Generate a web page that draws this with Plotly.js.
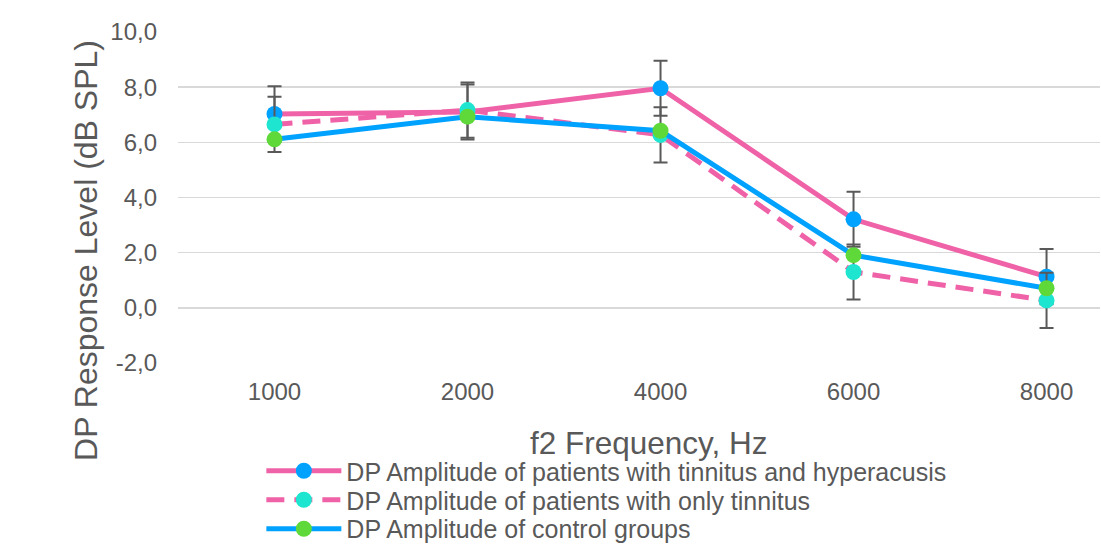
<!DOCTYPE html>
<html>
<head>
<meta charset="utf-8">
<script src="https://cdn.plot.ly/plotly-3.0.1.min.js"></script>
<style>html,body{margin:0;padding:0;background:#fff;}#chart{width:1101px;height:551px;}</style>
</head>
<body>
<div id="chart"></div>
<script>
var categories = ["1000", "2000", "4000", "6000", "8000"];
var tinnitusHyperacusis = [7.03, 7.1, 7.96, 3.21, 1.13];
var onlyTinnitus = [6.65, 7.17, 6.27, 1.3, 0.27];
var controlGroup = [6.11, 6.93, 6.42, 1.91, 0.71];
var errHyperacusis = [1.0, 1.0, 1.0, 1.0, 1.0];
var errOnlyTinnitus = [1.0, 1.0, 1.0, 1.0, 1.0];
var seriesNames = [
  "DP Amplitude of patients with tinnitus and hyperacusis",
  "DP Amplitude of patients with only tinnitus",
  "DP Amplitude of control groups"
];
var yTicks = [-2, 0, 2, 4, 6, 8, 10];
var yTickText = yTicks.map(function (v) { return v.toFixed(1).replace(".", ","); });
var xTitle = "f2 Frequency, Hz";
var yTitle = "DP Response Level (dB SPL)";

var errStyle = {type: "data", visible: true, color: "#595959", thickness: 2, width: 7};

var traces = [
  {x: categories, y: tinnitusHyperacusis, name: seriesNames[0], type: "scatter", mode: "lines+markers",
   legend: "legend",
   line: {color: "#EF62A8", width: 5}, marker: {color: "#00A2FF", size: 16},
   error_y: Object.assign({array: errHyperacusis}, errStyle)},
  {x: categories, y: onlyTinnitus, name: seriesNames[1], type: "scatter", mode: "lines+markers",
   legend: "legend2",
   line: {color: "#EF62A8", width: 5, dash: "18px,10px"}, marker: {color: "#1DE5D0", size: 16},
   error_y: Object.assign({array: errOnlyTinnitus}, errStyle)},
  {x: categories, y: controlGroup, name: seriesNames[2], type: "scatter", mode: "lines+markers",
   legend: "legend3",
   line: {color: "#00A2FF", width: 5}, marker: {color: "#5FD93A", size: 16}}
];

function legendAt(yPaper) {
  return {x: 0.0904, y: yPaper, xanchor: "left", yanchor: "middle", orientation: "v", itemwidth: 75,
          font: {size: 25, color: "#595959"}, bgcolor: "rgba(0,0,0,0)", borderwidth: 0};
}

var layout = {
  width: 1101, height: 551,
  margin: {l: 178, r: 1, t: 32, b: 188, autoexpand: false},
  paper_bgcolor: "#fff", plot_bgcolor: "#fff",
  font: {family: "Liberation Sans, Arial, sans-serif", color: "#595959"},
  showlegend: true,
  legend: legendAt(-0.3263),
  legend2: legendAt(-0.4139),
  legend3: legendAt(-0.5015),
  xaxis: {type: "category", range: [-0.5, 4.277], showgrid: false, zeroline: false, showline: false,
          ticks: "", tickfont: {size: 24, color: "#595959"}, ticklabelstandoff: 12,
          automargin: false, fixedrange: true},
  yaxis: {range: [-2, 10], tickvals: yTicks, ticktext: yTickText, showgrid: true, gridcolor: "#d9d9d9", gridwidth: 1.5,
          zeroline: false, showline: false, ticks: "", tickfont: {size: 24, color: "#595959"}, ticklabelstandoff: 20,
          automargin: false, fixedrange: true},
  annotations: [
    {text: xTitle, xref: "paper", yref: "paper", x: 0.5108, y: -0.2417, xanchor: "center", yanchor: "middle",
     showarrow: false, font: {size: 31.5, color: "#595959"}},
    {text: yTitle, xref: "paper", yref: "paper", x: -0.0998, y: 0.3414, xanchor: "center", yanchor: "middle",
     textangle: -90, showarrow: false, font: {size: 32, color: "#595959"}}
  ]
};

Plotly.newPlot("chart", traces, layout, {displayModeBar: false, staticPlot: true});
</script>
</body>
</html>
